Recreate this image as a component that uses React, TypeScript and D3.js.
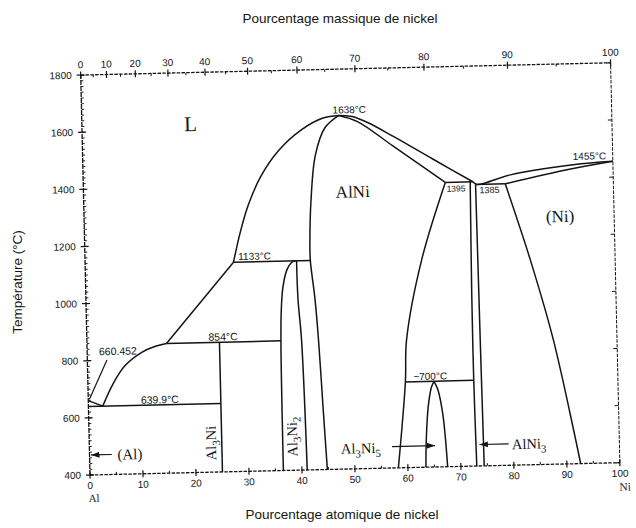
import React from "react";
import * as d3 from "d3";

type P = [number, number];

// ---------- axis data ----------
const atomicTicks = d3.range(0, 101, 10);
const atomicMinor = d3.range(5, 100, 10);
const massTicks = d3.range(0, 101, 10);
const massMinor = d3.range(5, 100, 10);
const tempTicks = d3.range(400, 1801, 200);
const tempMinor = d3.range(400, 1801, 20);

// ---------- phase boundaries (at.% Ni, °C) ----------
const alLiquidus: P[] = [[0, 660.452], [2.7, 639.9]];
const liquidusA: P[] = [[2.7, 639.9], [4.8, 719], [7.1, 780], [10.3, 825], [12.9, 845], [15, 854]];
const liquidusB: P[] = [[15, 854], [28, 1133]];
const liquidusC: P[] = [[28, 1133], [29.3, 1230], [31, 1330], [33.5, 1430], [37, 1520], [41.5, 1592], [45.5, 1630], [48.5, 1638]];
const alNiLeft: P[] = [[48.5, 1638], [45.8, 1595], [43.9, 1500], [42.9, 1345], [42.5, 1200], [42.5, 1133], [43.2, 1000], [43.7, 854], [44.3, 600], [44.8, 400]];
const al3Ni2Left: P[] = [[36.5, 400], [36.6, 850], [36.8, 960], [37.2, 1040], [38.0, 1100], [39.0, 1128], [39.7, 1133]];
const al3Ni2Right: P[] = [[39.9, 1133], [40.0, 1000], [40.5, 854], [41.0, 400]];
const alNiLiquidusR: P[] = [[48.5, 1638], [51, 1633], [54, 1610], [58.7, 1560], [66.2, 1476], [73.5, 1395]];
const alNiSolidusR: P[] = [[48.5, 1638], [52, 1615], [58.7, 1525], [68.3, 1395]];
const alNiRight: P[] = [[68.3, 1395], [63.5, 1126], [60.3, 847], [59.9, 700], [58.2, 400]];
const liquidusNi: P[] = [[73.5, 1395], [74.3, 1385], [80.6, 1416], [92.5, 1446], [100, 1455]];
const solidusNi: P[] = [[79.6, 1385], [91.3, 1429], [100, 1455]];
const solvusNi: P[] = [[79.6, 1385], [84.0, 1117], [88.0, 835], [92.6, 400]];
const alNi3Left: P[] = [[73.0, 1395], [72.8, 1000], [72.8, 700], [73.0, 400]];
const alNi3Right: P[] = [[74.0, 1385], [74.2, 841], [74.4, 400]];
const al3Ni5Left: P[] = [[63.4, 400], [63.6, 500], [64.1, 612], [64.8, 680], [65.3, 700]];
const al3Ni5Right: P[] = [[65.3, 700], [66.0, 670], [66.8, 587], [67.2, 500], [67.5, 400]];
const al3NiLine: P[] = [[25, 854], [25, 400]];
const eutecticLine: P[] = [[0, 639.9], [25, 639.9]];
const peritectic854: P[] = [[15, 854], [36.6, 854]];
const peritectic1133: P[] = [[28, 1133], [42.5, 1133]];
const line1395: P[] = [[68.3, 1395], [73.5, 1395]];
const line1385: P[] = [[74.0, 1385], [79.6, 1385]];
const line700: P[] = [[59.9, 700], [72.8, 700]];

const smoothLines: P[][] = [liquidusA, liquidusC, alNiLeft, al3Ni2Left, al3Ni2Right, alNiLiquidusR, alNiSolidusR, alNiRight, liquidusNi, solidusNi, solvusNi, alNi3Left, alNi3Right, al3Ni5Left, al3Ni5Right];
const straightLines: P[][] = [alLiquidus, liquidusB, al3NiLine, eutecticLine, peritectic854, peritectic1133, line1395, line1385, line700];

// mass % -> atomic %
const mAl = 26.98, mNi = 58.69;
const wtToAt = (w: number) => (w / mNi) / (w / mNi + (100 - w) / mAl) * 100;

export default function App() {
  const x = d3.scaleLinear().domain([0, 100]).range([90, 620]);
  const y = d3.scaleLinear().domain([400, 1800]).range([475, 75]);
  const X0 = x(0), X1 = x(100), Y0 = y(400), Y1 = y(1800);
  const smooth = d3.line<P>().x(d => x(d[0])).y(d => y(d[1])).curve(d3.curveCatmullRom.alpha(0.5));
  const straight = d3.line<P>().x(d => x(d[0])).y(d => y(d[1]));
  const ink = "#141414";
  const serif = "'Liberation Serif', 'DejaVu Serif', serif";
  const sans = "'Liberation Sans', Arial, sans-serif";
  const lw = 1.5;
  const frame = { stroke: ink, strokeWidth: 1.3, strokeDasharray: "3.5 1.3", fill: "none" };

  return (
    <svg width={636} height={528} viewBox="0 0 636 528" style={{ display: "block", position: "absolute", left: 0, top: 0, background: "#fff" }}>
      <defs>
        <marker id="ah" viewBox="0 0 10 10" refX="10" refY="5" markerWidth="7" markerHeight="7" orient="auto">
          <path d="M0,1.5 L10,5 L0,8.5 z" fill={ink} />
        </marker>
      </defs>
      <rect x={0} y={0} width={636} height={528} fill="#fff" />

      {/* outer titles */}
      <text x={340} y={23} textAnchor="middle" fontFamily={sans} fontSize={13.5} fill={ink}>Pourcentage massique de nickel</text>
      <text x={342} y={519} textAnchor="middle" fontFamily={sans} fontSize={13.5} fill={ink}>Pourcentage atomique de nickel</text>
      <text transform="translate(22,282) rotate(-90)" textAnchor="middle" fontFamily={sans} fontSize={13.5} fill={ink}>Température (°C)</text>

      <g transform={`rotate(-1.33, ${X0}, ${Y0})`}>
        {/* frame */}
        <line x1={X0} y1={Y1} x2={X1} y2={Y1} {...frame} />
        <line x1={X0} y1={Y0} x2={X1} y2={Y0} {...frame} />
        <line x1={X0} y1={Y0} x2={X0} y2={Y1} {...frame} strokeDasharray="5 1" />
        <line x1={X1} y1={Y0} x2={X1} y2={Y1} {...frame} strokeWidth={1} />

        {/* left axis ticks */}
        {tempMinor.map(t => <line key={"lm" + t} x1={X0} x2={X0 + 2.5} y1={y(t)} y2={y(t)} stroke={ink} strokeWidth={0.9} />)}
        {tempTicks.map(t => (
          <g key={"lt" + t}>
            <line x1={X0 - 4} x2={X0 + 4} y1={y(t)} y2={y(t)} stroke={ink} strokeWidth={1.2} />
            <text x={X0 - 9} y={y(t) + 3.5} textAnchor="end" fontFamily={sans} fontSize={10} fill={ink}>{t}</text>
            <line x1={X1 - 4} x2={X1} y1={y(t)} y2={y(t)} stroke={ink} strokeWidth={1} />
          </g>
        ))}

        {/* bottom axis */}
        {atomicMinor.map(a => <line key={"bm" + a} x1={x(a)} x2={x(a)} y1={Y0} y2={Y0 - 2.5} stroke={ink} strokeWidth={1} />)}
        {atomicTicks.map(a => (
          <g key={"bt" + a}>
            <line x1={x(a)} x2={x(a)} y1={Y0 - 3.5} y2={Y0 + 3.5} stroke={ink} strokeWidth={1.2} />
            <text x={x(a)} y={Y0 + 14} textAnchor="middle" fontFamily={sans} fontSize={10} fill={ink}>{a}</text>
          </g>
        ))}
        <text x={X0 - 2} y={Y0 + 27} fontFamily={serif} fontSize={11} fill={ink}>Al</text>
        <text x={X1 - 1} y={Y0 + 28} fontFamily={serif} fontSize={11.5} fill={ink}>Ni</text>

        {/* top axis (mass %) */}
        {massMinor.map(w => <line key={"tm" + w} x1={x(wtToAt(w))} x2={x(wtToAt(w))} y1={Y1} y2={Y1 + 2.5} stroke={ink} strokeWidth={1} />)}
        {massTicks.map(w => (
          <g key={"tt" + w}>
            <line x1={x(wtToAt(w))} x2={x(wtToAt(w))} y1={Y1 - 3.5} y2={Y1 + 3.5} stroke={ink} strokeWidth={1.2} />
            <text x={x(wtToAt(w))} y={Y1 - 7} textAnchor="middle" fontFamily={sans} fontSize={10} fill={ink}>{w}</text>
          </g>
        ))}

        {/* phase boundaries */}
        {smoothLines.map((pts, i) => <path key={"s" + i} d={smooth(pts) || ""} fill="none" stroke={ink} strokeWidth={lw} strokeLinejoin="round" />)}
        {straightLines.map((pts, i) => <path key={"l" + i} d={straight(pts) || ""} fill="none" stroke={ink} strokeWidth={lw} />)}

        {/* leader for Al melting point */}
        <line x1={x(3.7)} y1={y(801)} x2={x(0.2)} y2={y(664)} stroke={ink} strokeWidth={1.2} />

        {/* temperature annotations */}
        <g fontFamily={sans} fill={ink} textAnchor="middle">
          <text x={x(50.5)} y={y(1645)} fontSize={10}>1638°C</text>
          <text x={x(95.6)} y={y(1463)} fontSize={10}>1455°C</text>
          <text x={x(32)} y={y(1140)} fontSize={10}>1133°C</text>
          <text x={x(25.7)} y={y(860)} fontSize={10.5}>854°C</text>
          <text x={x(13.5)} y={y(645)} fontSize={10.5}>639.9°C</text>
          <text x={x(5.8)} y={y(818)} fontSize={10.5}>660.452</text>
          <text x={x(64.6)} y={y(706)} fontSize={10}>~700°C</text>
          <text x={x(70.3)} y={y(1362)} fontSize={8.5}>1395</text>
          <text x={x(76.6)} y={y(1354)} fontSize={9}>1385</text>
        </g>

        {/* phase labels */}
        <g fontFamily={serif} fill={ink}>
          <text x={x(20.5)} y={y(1595)} fontSize={21} textAnchor="middle">L</text>
          <text x={x(50.8)} y={y(1350)} fontSize={17} textAnchor="middle">AlNi</text>
          <text x={x(89.8)} y={y(1247)} fontSize={17} textAnchor="middle">(Ni)</text>
          <text x={x(7.6)} y={y(452)} fontSize={15} textAnchor="middle">(Al)</text>
          <text x={x(51.2)} y={y(454)} fontSize={14.5} textAnchor="middle">
            Al<tspan dy={4} fontSize={11}>3</tspan><tspan dy={-4}>Ni</tspan><tspan dy={4} fontSize={11}>5</tspan>
          </text>
          <text x={x(79.7)} y={y(456)} fontSize={14.5}>
            AlNi<tspan dy={4} fontSize={11}>3</tspan>
          </text>
          <text transform={`translate(${x(23.9)},${y(502)}) rotate(-90)`} fontSize={14.5} textAnchor="middle">
            Al<tspan dy={4} fontSize={11}>3</tspan><tspan dy={-4}>Ni</tspan>
          </text>
          <text transform={`translate(${x(39.2)},${y(518)}) rotate(-90)`} fontSize={14.5} textAnchor="middle">
            Al<tspan dy={4} fontSize={11}>3</tspan><tspan dy={-4}>Ni</tspan><tspan dy={4} fontSize={11}>2</tspan>
          </text>
        </g>

        {/* arrows */}
        <line x1={x(4.2)} y1={y(470)} x2={x(0.3)} y2={y(470)} stroke={ink} strokeWidth={1.2} markerEnd="url(#ah)" />
        <line x1={x(57.1)} y1={y(475)} x2={x(65.2)} y2={y(475)} stroke={ink} strokeWidth={1.2} markerEnd="url(#ah)" />
        <line x1={x(79.1)} y1={y(475)} x2={x(73.6)} y2={y(475)} stroke={ink} strokeWidth={1.2} markerEnd="url(#ah)" />
      </g>
    </svg>
  );
}
